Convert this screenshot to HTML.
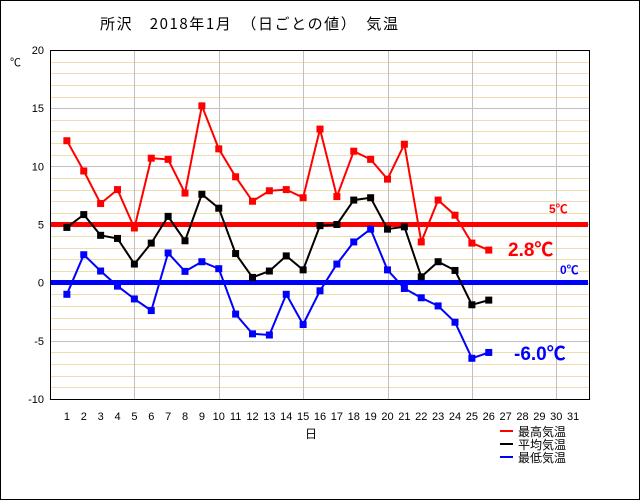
<!DOCTYPE html>
<html><head><meta charset="utf-8"><style>
html,body{margin:0;padding:0;background:#fff;}
svg{display:block;font-family:"Liberation Sans","Noto Sans CJK JP",sans-serif;}
</style></head><body>
<svg width="640" height="500" viewBox="0 0 640 500" xmlns="http://www.w3.org/2000/svg">
<rect x="0.5" y="0.5" width="639" height="499" fill="#fff" stroke="#000"/>
<text x="100" y="29" font-size="15" font-family="'Noto Sans CJK JP',sans-serif" textLength="298" lengthAdjust="spacing">所沢　2018年1月　（日ごとの値）　気温</text>
<g id="grid"></g>
<g id="ticks" font-size="11" fill="#000"></g>
<text x="10" y="66" font-size="11" font-family="'Noto Sans CJK JP',sans-serif">℃</text>
<text x="305" y="438" font-size="12" font-family="'Noto Sans CJK JP',sans-serif">日</text>
<rect x="50.5" y="50.5" width="539" height="349" fill="none" stroke="#000"/>
<line x1="51" y1="224.5" x2="588" y2="224.5" stroke="#f00" stroke-width="5"/>
<line x1="51" y1="282.5" x2="588" y2="282.5" stroke="#00f" stroke-width="5"/>
<g id="series"></g>
<g font-weight="bold">
<text x="549" y="213" font-size="12" fill="#f00">5℃</text>
<text x="508" y="256" font-size="19" fill="#f00">2.8℃</text>
<text x="560" y="274" font-size="12" fill="#00f">0℃</text>
<text x="514" y="360" font-size="19" fill="#00f">-6.0℃</text>
</g>
<g font-size="12" font-family="'Noto Sans CJK JP',sans-serif">
<line x1="500" y1="431" x2="513" y2="431" stroke="#f00" stroke-width="2"/>
<text x="518" y="436">最高気温</text>
<line x1="500" y1="444" x2="513" y2="444" stroke="#000" stroke-width="2"/>
<text x="518" y="449">平均気温</text>
<line x1="500" y1="457" x2="513" y2="457" stroke="#00f" stroke-width="2"/>
<text x="518" y="462">最低気温</text>
</g>
<script>
var ns="http://www.w3.org/2000/svg";
function el(p,t,a){var e=document.createElementNS(ns,t);for(var k in a)e.setAttribute(k,a[k]);p.appendChild(e);return e;}
var g=document.getElementById('grid'),tk=document.getElementById('ticks'),s=document.getElementById('series');
function Y(v){return 50+(20-v)*11.633;}
function X(d){return 50+d*16.875;}
for(var v=-9;v<20;v++){var y=Math.round(Y(v))+0.5;el(g,'line',{x1:51,x2:589,y1:y,y2:y,stroke:(v%5==0)?'#c0c0c0':'#f0dcb0','stroke-width':1});}
for(var d=5;d<=31;d+=5){var x=Math.round(X(d))+0.5;el(g,'line',{x1:x,x2:x,y1:51,y2:399,stroke:'#c0c0c0'});}
for(var v=-10;v<=20;v+=5){var t=el(tk,'text',{x:44,y:Y(v)+4,'text-anchor':'end'});t.textContent=v;}
for(var d=1;d<=31;d++){var t=el(tk,'text',{x:X(d),y:420,'text-anchor':'middle'});t.textContent=d;}
var mx=[12.2,9.6,6.8,8.0,4.7,10.7,10.6,7.7,15.2,11.5,9.1,7.0,7.9,8.0,7.3,13.2,7.4,11.3,10.6,8.9,11.9,3.5,7.1,5.8,3.4,2.8];
var av=[4.75,5.85,4.07,3.8,1.6,3.4,5.7,3.6,7.6,6.4,2.5,0.45,1.0,2.3,1.1,4.9,5.0,7.1,7.3,4.6,4.8,0.5,1.8,1.05,-1.9,-1.5];
var mn=[-1.0,2.4,1.0,-0.3,-1.4,-2.4,2.55,0.97,1.8,1.2,-2.7,-4.4,-4.5,-1.0,-3.6,-0.7,1.6,3.5,4.6,1.1,-0.5,-1.3,-2.0,-3.4,-6.5,-6.0];
[[mx,'#f00'],[av,'#000'],[mn,'#00f']].forEach(function(p){
 var pts=p[0].map(function(v,i){return X(i+1).toFixed(1)+','+Y(v).toFixed(1);}).join(' ');
 el(s,'polyline',{points:pts,fill:'none',stroke:p[1],'stroke-width':2});
 p[0].forEach(function(v,i){el(s,'rect',{x:X(i+1)-3.5,y:Y(v)-3.5,width:7,height:7,fill:p[1]});});
});
</script>
</svg>
</body></html>
